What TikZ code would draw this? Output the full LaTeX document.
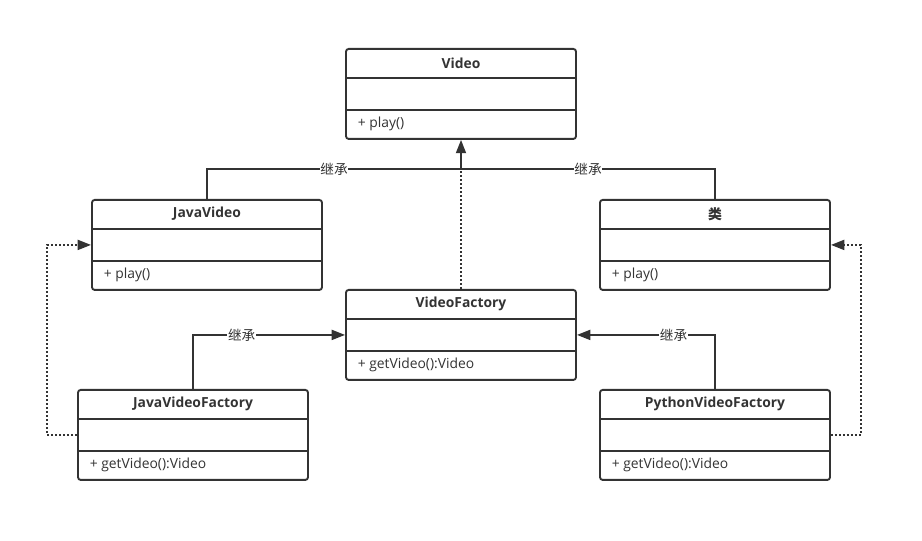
\documentclass[tikz,border=0pt]{standalone}
\usepackage{fontspec}
\setmainfont{Open Sans}
\newfontfamily\cjk{Noto Sans CJK SC}
\usetikzlibrary{calc,arrows.meta}
\definecolor{umlline}{HTML}{333333}
\begin{document}
\begin{tikzpicture}[x=0.75pt,y=-0.75pt]
	\path [use as bounding box] (0,0) rectangle (922,541);
	\tikzstyle{cls} = [draw=umlline, line width=1.4pt, rounded corners=2pt, minimum width=172.5pt, minimum height=67.5pt, inner sep=0pt, anchor=north]
	\tikzstyle{rule} = [draw=umlline, line width=1.4pt]
	\tikzstyle{ttl} = [font=\bfseries\fontsize{10.4}{12}\selectfont, text=umlline]
	\tikzstyle{mth} = [font=\fontsize{10.4}{12}\selectfont, text=umlline, anchor=west]
	\tikzstyle{lbl} = [font=\cjk\fontsize{10.2}{12}\selectfont, text=umlline, fill=white, inner sep=0.5pt]
	\tikzstyle{gen} = [draw=umlline, line width=1.4pt, -{Triangle[length=10pt,width=7.5pt]}]
	\tikzstyle{dep} = [draw=umlline, line width=1.4pt, dash pattern=on 1.4pt off 1.6pt]
	% classes
	\foreach \cname/\cx/\ty/\ctitle/\cmeth in {video/461/48/Video/{+ play()}, javavideo/207/199/JavaVideo/{+ play()}, lei/715/199/{\cjk 类}/{+ play()}, factory/461/289/VideoFactory/{+ getVideo():Video}, javafactory/193/389/JavaVideoFactory/{+ getVideo():Video}, pyfactory/715/389/PythonVideoFactory/{+ getVideo():Video}}
	{
		\node[cls] (\cname) at (\cx,\ty) {};
		\node[ttl] (\cname-title) at ($(\cname.north)+(0,15)$) {\ctitle};
		\draw[rule] ($(\cname.north west)+(0,30)$) -- ($(\cname.north east)+(0,30)$);
		\draw[rule] ($(\cname.north west)+(0,62)$) -- ($(\cname.north east)+(0,62)$);
		\node[mth] (\cname-op) at ($(\cname.north west)+(8,76)$) {\cmeth};
	}
	\coordinate (join) at (461,169);
	% inheritance
	\draw[rule] (javavideo.north) |- (join) node[lbl, pos=0.75] {继承};
	\draw[rule] (lei.north) |- (join) node[lbl, pos=0.75] {继承};
	\draw[gen] (join) -- (video.south);
	\draw[dep] (factory.north) -- (join);
	\draw[gen] (javafactory.north) |- (factory.west) node[lbl, pos=0.66] {继承};
	\draw[gen] (pyfactory.north) |- (factory.east) node[lbl, pos=0.65] {继承};
	% dependencies
	\draw[dep, -{Triangle[length=10pt,width=7.5pt]}] (javafactory.west) -- ++(-30,0) |- (javavideo.west);
	\draw[dep, -{Triangle[length=10pt,width=7.5pt]}] (pyfactory.east) -- ++(30,0) |- (lei.east);
\end{tikzpicture}
\end{document}
